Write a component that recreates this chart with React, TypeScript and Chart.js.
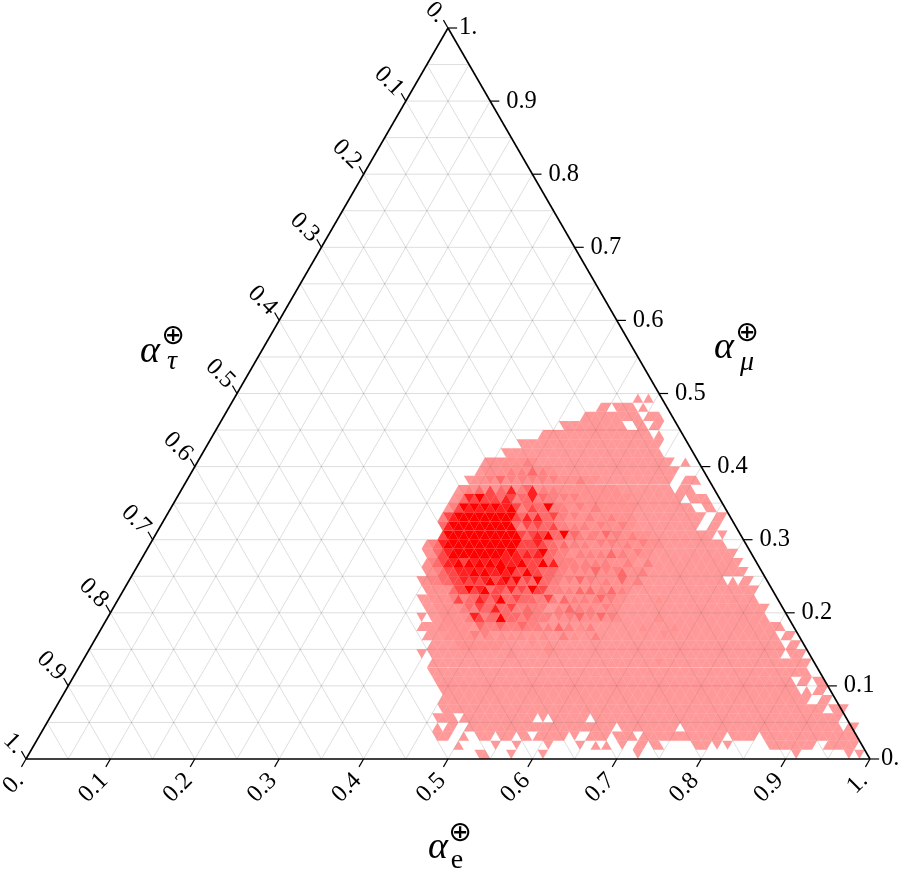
import React, { useEffect, useRef } from "react";
import { Chart, registerables } from "chart.js";

Chart.register(...registerables);

// Ternary heat map: 80 divisions per side. Cells in a row are addressed by half-step column.
const divisions = 80;
const rowSpansLower: string[] = [
  "86-87 92 98 116 146 156 158",
  "82 89 93 99 105 108 110 113 116-117 119-120 127-129 131 133 141-143 144-149 152-157",
  "78-80 83 86-88 90-92 94-95 97-102 104 107-110 112-115 117-132 134-138 140-157",
  "78 80-81 84-111 113-123 125-154 156-157",
  "78-81 83-96 98 100-106 108-154",
  "79-151 153-155",
  "79-148 151-152",
  "79-146 148 150-151",
  "78-145 147-148 150-151",
  "77-148",
  "77-148",
  "75 77-143 145-147",
  "77-143 145-146",
  "76-142 144-145",
  "75-143",
  "75 77-140",
  "76-140",
  "75-138",
  "76-138",
  "75-132 134 136-137",
];
const rowSpansUpper: string[] = [
  "76-136",
  "76-135",
  "76-134",
  "76-132",
  "79-130 132",
  "79-127 130-131",
  "79-128 131-132",
  "80-126 129-130",
  "81-124 126-129",
  "82-122 124-126",
  "84-122 125-127",
  "86-123",
  "87-122 125",
  "91-120",
  "94-120",
  "98-118 120",
  "102-113 116-117 119-120",
  "106-116 118-120",
  "109-110 112-115 117",
  "116 118",
];
const shadeLower: string[] = [
  "", "", "", "", "", "", "", "", "", "",
  "120:2",
  "92:2 99:2",
  "82-90:2 96:2 99:2",
  "80-85:2 85:3 87:3 88:2 90:2 92:2 94:2 96:2 98:2 102:3 104:2 108:3 121:2",
  "79-84:2 86:4 87:3 88:3 89:3 90:4 91:3 92:3 93:3 94:4 95:3 96:3 97:3 99:3 101:4 103:3 105:2 107:3 117:2 123:2",
  "79-83:2 84:3 85:6 86:5 87:3 88:4 89:4 90:7 91:4 92:4 93:4 94:3 95:4 96:3 97:3 98:3 99:3 101:3 102-112:2 103:3 105:4 107:3 109:4 111:3 120:2",
  "78-82:2 83:3 84:4 85:3 86:5 87:4 88:4 89:6 90:4 91:4 92:5 93:3 94:3 95:4 96:3 97:3 98:3 101:3 102-112:2 103:4 105:3 107:3 110:3",
  "77-80:2 81:3 82:5 83:3 84:4 85:4 86:6 87:5 88:4 89:5 90:7 91:4 92:4 93:5 94:4 95:4 96:4 97:3 98:3 99:5 100:3 102:4 103-113:2 104:3 106:3 108:3 109:4 111:3 120:2",
  "76-80:2 81:4 82:5 83:5 84:7 85:5 86:6 87:7 88:4 89:5 90:5 91:4 92:6 93:4 94:5 95:4 96:7 97:5 98:5 99:3 100:3 101:3 102-114:2 103:3 105:4 107:4 109:3 111:4 113:3",
  "75:2 76:2 77:3 78:3 79:4 80:4 81:5 82:5 83:6 84:5 85:6 86:5 87:6 88:7 89:5 90:6 91:7 92:5 93:7 94:4 95:5 96:4 97:7 98:4 99:4 100:3 101:3 102-116:2 103:3 105:4 107:3 110:3 113:4 116:3",
];
const shadeUpper: string[] = [
  "76:2 77:2 78:3 79:4 80:5 81:5 82:6 83:6 84:6 85:7 86:6 87:7 88:6 89:6 90:7 91:6 92:7 93:5 94:5 95:7 96:5 97:5 98:4 99:4 100:4 101:3 102:3 103-116:2 104:3 106:3 108:4 110:3 112:3 113:4 117:3",
  "76:2 77:3 78:4 79:5 80:6 81:6 82:7 83:5 84:7 85:6 86:7 87:6 88:7 89:6 90:7 91:6 92:6 93:6 94:7 95:5 96:5 97:5 98:7 99:4 100:6 101:3 102:3 103:3 104:3 105-115:2 106:3 108:3 110:3 114:3 118:3",
  "76:2 77:2 78:4 79:5 80:6 81-90:7 91:6 92:7 93:6 94:5 95:6 96:5 97:6 98:7 99:4 100:4 101:3 102:3 103-118:2 105:3 107:3 109:3 111:4 113:3 116:3",
  "76:2 77:3 78:4 79:6 80-93:7 94:5 95:5 96:5 97:6 98:5 99:4 100:4 101:3 102:4 103-120:2 104:3 106:3 109:3 111:3 114:3 117:3",
  "79:5 80-93:7 94:5 95:4 96:5 97:6 98:5 99:7 100:4 101:4 102:7 103:3 104:4 105:3 106-118:2 107:3 108:3 110:4 112:3 115:3",
  "79:4 80:6 81-92:7 93:4 94:3 95:5 96:4 97:5 98:4 99:4 100:5 101:3 102:3 103-115:2 104:3 106:3 109:3 113:3",
  "79:3 80:5 81:6 82-92:7 93:5 94:4 95:6 96:4 97:6 98:4 99:4 100:5 101:3 102:3 103-115:2 104:3 107:3 111:3",
  "81:3 82:5 83:7 84:6 85:7 86:6 87:7 88:6 89:7 90:6 91:6 92:7 93:5 94:3 95:4 96:5 97:4 98:4 99:7 100:3 101:3 102:3 103-115:2 105:3 108:3",
  "82-114:2 83:4 84:6 85:5 86:7 87:5 88:5 89:5 90:4 91:6 92:5 93:3 94:4 95:4 96:6 97:3 98:4 99:3 100:3 102:3 104:3",
  "83-112:2 84:3 86:4 88:5 90:4 91:3 92:6 94:3 95:4 96:6 98:3 100:3",
  "85-108:2 88:3 90:4 92:3 94:3 96:3 98:3 100:3 105:3",
  "87-100:2 92:3 94:3 96:4 98:3",
  "88-96:2 95:3",
  "", "", "", "", "", "", "",
];
const levelAlphas: number[] = [0.4, 0.43, 0.49, 0.58, 0.72, 0.87, 1];
const gridFractions: number[] = [0.05, 0.1, 0.15, 0.2, 0.25, 0.3, 0.35, 0.4, 0.45, 0.5, 0.55, 0.6, 0.65, 0.7, 0.75, 0.8, 0.85, 0.9, 0.95];
const tickValues: number[] = [0, 0.1, 0.2, 0.3, 0.4, 0.5, 0.6, 0.7, 0.8, 0.9, 1];
const tickLabels: string[] = ["0.", "0.1", "0.2", "0.3", "0.4", "0.5", "0.6", "0.7", "0.8", "0.9", "1."];

const SIDE = 844;
const HEIGHT = 731;
const ORIGIN_X = 26;
const ORIGIN_Y = 759;
const W = 900;
const H = 872;
const TICK = 0.0108;

// Ternary (e, mu) to plane data coordinates
const pt = (e: number, mu: number) => ({ x: e + mu / 2, y: mu });

function parseTokens(s: string): { from: number; to: number; level: number }[] {
  return s
    .split(" ")
    .filter(Boolean)
    .map((tok) => {
      const [range, lv] = tok.split(":");
      const [a, b] = range.split("-").map(Number);
      return { from: a, to: b === undefined ? a : b, level: lv ? Number(lv) : 1 };
    });
}

function buildCells() {
  const spans = [...rowSpansLower, ...rowSpansUpper];
  const shades = [...shadeLower, ...shadeUpper];
  const byLevel: { x: number; y: number; down: boolean }[][] = levelAlphas.map(() => []);
  spans.forEach((s, r) => {
    const row = new Map<number, number>();
    parseTokens(s).forEach((t) => {
      for (let c = t.from; c <= t.to; c++) row.set(c, 1);
    });
    parseTokens(shades[r]).forEach((t) => {
      for (let c = t.from; c <= t.to; c++) if (row.has(c)) row.set(c, t.level);
    });
    row.forEach((level, c) => {
      const down = (c - r) % 2 === 0;
      byLevel[level - 1].push({
        x: c / (2 * divisions),
        y: (r + (down ? 2 / 3 : 1 / 3)) / divisions,
        down,
      });
    });
  });
  return byLevel;
}

function buildDatasets() {
  const sets: any[] = [];
  const line = (a: any, b: any, color: string, width: number, order: number) =>
    sets.push({
      type: "scatter",
      data: [a, b],
      showLine: true,
      borderColor: color,
      borderWidth: width,
      pointRadius: 0,
      order,
      clip: false,
    });
  const grid = "rgba(0,0,0,0.17)";
  gridFractions.forEach((f) => {
    line(pt(0, f), pt(1 - f, f), grid, 0.8, 30);
    line(pt(f, 0), pt(f, 1 - f), grid, 0.8, 30);
    line(pt(f, 0), pt(0, f), grid, 0.8, 30);
  });
  buildCells().forEach((cells, i) => {
    sets.push({
      type: "scatter",
      data: cells,
      pointStyle: "triangle",
      pointRadius: (SIDE / divisions) / Math.sqrt(3),
      pointRotation: (ctx: any) => (ctx.raw && ctx.raw.down ? 180 : 0),
      pointBackgroundColor: `rgba(255,0,0,${levelAlphas[i]})`,
      pointBorderWidth: 0,
      showLine: false,
      order: 20 - i,
      clip: false,
    });
  });
  const black = "#000";
  line(pt(0, 0), pt(1, 0), black, 1.6, 1);
  line(pt(1, 0), pt(0, 1), black, 1.6, 1);
  line(pt(0, 1), pt(0, 0), black, 1.6, 1);
  tickValues.forEach((t) => {
    line(pt(t, 0), pt(t, -TICK), black, 1.2, 1);
    line(pt(1 - t, t), pt(1 - t + TICK, t), black, 1.2, 1);
    line(pt(0, 1 - t), pt(-TICK, 1 - t + TICK), black, 1.2, 1);
  });
  return sets;
}

const labelFont = '24.5px "Liberation Serif", serif';
const ternaryLabels = {
  id: "ternaryLabels",
  afterDraw(chart: any) {
    const { ctx, scales } = chart;
    const X = (p: { x: number; y: number }) => scales.x.getPixelForValue(p.x);
    const Y = (p: { x: number; y: number }) => scales.y.getPixelForValue(p.y);
    ctx.save();
    ctx.fillStyle = "#000";
    ctx.font = labelFont;
    ctx.textBaseline = "middle";
    tickValues.forEach((t, i) => {
      const label = tickLabels[i];
      let p = pt(t, 0);
      ctx.save();
      ctx.translate(X(p) - 6, Y(p) + 18);
      ctx.rotate(-Math.PI / 4);
      ctx.textAlign = "right";
      ctx.fillText(label, 0, 0);
      ctx.restore();
      p = pt(0, 1 - t);
      ctx.save();
      ctx.translate(X(p) - 6, Y(p) - 9);
      ctx.rotate(Math.PI / 4);
      ctx.textAlign = "right";
      ctx.fillText(label, 0, 0);
      ctx.restore();
      p = pt(1 - t, t);
      ctx.textAlign = "left";
      ctx.fillText(label, X(p) + (label.length === 2 ? 11 : 16), Y(p));
    });
    const title = (ax: number, ay: number, sub: string, subItalic: boolean, ox: number, oy: number, sx: number, sy: number) => {
      ctx.textAlign = "left";
      ctx.textBaseline = "alphabetic";
      ctx.font = 'italic 38px "Liberation Serif", serif';
      ctx.fillText("α", ax, ay);
      ctx.textAlign = "center";
      ctx.textBaseline = "middle";
      ctx.font = '28px "DejaVu Sans", sans-serif';
      ctx.fillText("⊕", ox, oy);
      ctx.font = `${subItalic ? "italic " : ""}28px "Liberation Serif", serif`;
      ctx.fillText(sub, sx, sy);
    };
    title(140, 362, "τ", true, 173, 337, 172, 362);
    title(714, 358, "μ", true, 747, 334, 747, 363);
    title(428, 858, "e", false, 460, 834, 457, 861);
    ctx.restore();
  },
};

export default function App() {
  const ref = useRef<HTMLCanvasElement>(null);
  useEffect(() => {
    document.body.style.margin = "0";
    const chart = new Chart(ref.current as HTMLCanvasElement, {
      type: "scatter",
      data: { datasets: buildDatasets() },
      options: {
        animation: false,
        responsive: false,
        devicePixelRatio: 1,
        layout: { padding: 0, autoPadding: false },
        events: [],
        plugins: { legend: { display: false }, tooltip: { enabled: false }, title: { display: false } },
        scales: {
          x: { type: "linear", display: false, min: -ORIGIN_X / SIDE, max: (W - ORIGIN_X) / SIDE },
          y: { type: "linear", display: false, min: (ORIGIN_Y - H) / HEIGHT, max: ORIGIN_Y / HEIGHT },
        },
      },
      plugins: [ternaryLabels],
    } as any);
    return () => chart.destroy();
  }, []);
  return <canvas ref={ref} width={W} height={H} style={{ display: "block", width: W, height: H }} />;
}
